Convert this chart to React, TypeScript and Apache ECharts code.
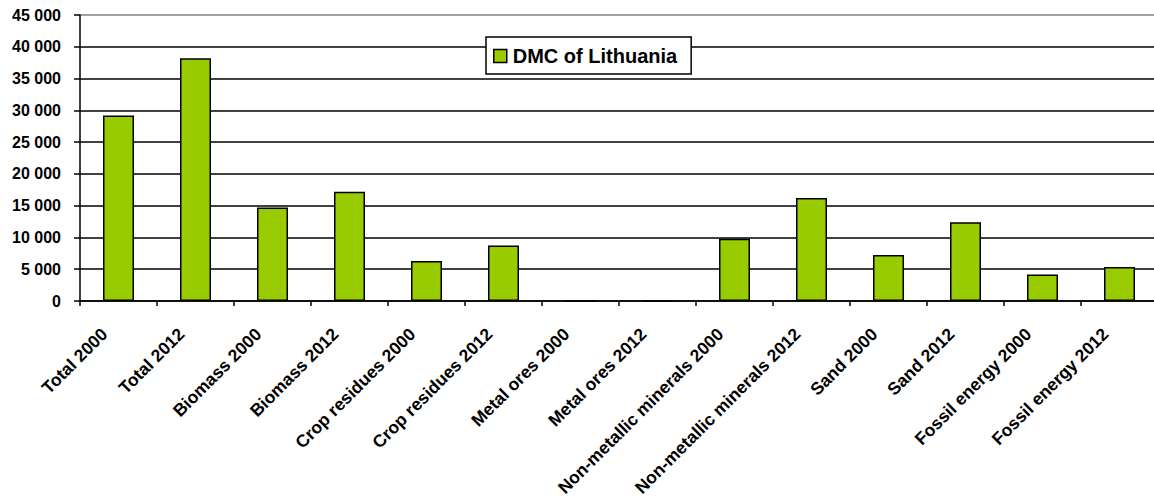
import React, { useEffect, useRef } from "react";
import * as echarts from "echarts";

// Domestic material consumption of Lithuania, thousand tonnes
const categories = [
  "Total 2000",
  "Total 2012",
  "Biomass 2000",
  "Biomass 2012",
  "Crop residues 2000",
  "Crop residues 2012",
  "Metal ores 2000",
  "Metal ores 2012",
  "Non-metallic minerals 2000",
  "Non-metallic minerals 2012",
  "Sand 2000",
  "Sand 2012",
  "Fossil energy 2000",
  "Fossil energy 2012",
];

const dmcValues = [
  29200, 38200, 14700, 17200, 6300, 8750, 0, 0, 9800, 16200, 7250, 12400, 4150, 5350,
];

const seriesName = "DMC of Lithuania";

const yMin = 0;
const yMax = 45000;
const yStep = 5000;

const FONT = "'Liberation Sans', Arial, Helvetica, sans-serif";

function formatThousands(v: number): string {
  return String(Math.round(v)).replace(/\B(?=(\d{3})+(?!\d))/g, " ");
}

export default function App() {
  const ref = useRef<HTMLDivElement>(null);

  useEffect(() => {
    if (!ref.current) return;
    const chart = echarts.init(ref.current, undefined, { renderer: "svg" });

    // one colour per split line, bottom to top; the top border line is grey
    const lineCount = (yMax - yMin) / yStep + 1;
    const splitColors = Array.from({ length: lineCount }, (_, i) =>
      i === lineCount - 1 ? "#808080" : "#000000"
    );

    chart.setOption({
      animation: false,
      backgroundColor: "#ffffff",
      textStyle: { fontFamily: FONT },
      grid: {
        left: 80,
        top: 15,
        right: -4,
        bottom: 198,
        containLabel: false,
        outerBoundsMode: "none",
      },
      legend: {
        data: [seriesName],
        left: 486,
        top: 37,
        orient: "horizontal",
        icon: "rect",
        itemWidth: 13,
        itemHeight: 13,
        itemGap: 0,
        padding: [9, 14, 8, 7],
        backgroundColor: "#ffffff",
        borderColor: "#000000",
        borderWidth: 1.5,
        itemStyle: { borderColor: "#000000", borderWidth: 1.5 },
        textStyle: {
          fontFamily: FONT,
          fontSize: 20,
          fontWeight: "bold",
          color: "#000000",
          padding: [0, 0, 0, 1],
        },
        selectedMode: false,
      },
      xAxis: {
        type: "category",
        data: categories,
        boundaryGap: true,
        axisLine: { show: true, lineStyle: { color: "#000000", width: 1.5 } },
        axisTick: {
          show: true,
          alignWithLabel: false,
          length: 5,
          lineStyle: { color: "#000000", width: 1.5 },
        },
        axisLabel: {
          interval: 0,
          rotate: 45,
          margin: 16,
          padding: [0, 20, 0, 0],
          fontFamily: FONT,
          fontSize: 17.5,
          fontWeight: "bold",
          color: "#000000",
        },
        splitLine: { show: false },
      },
      yAxis: {
        type: "value",
        min: yMin,
        max: yMax,
        interval: yStep,
        axisLine: { show: true, lineStyle: { color: "#000000", width: 1.5 } },
        axisTick: {
          show: true,
          length: 6,
          lineStyle: { color: "#000000", width: 1.5 },
        },
        axisLabel: {
          margin: 19,
          fontFamily: FONT,
          fontSize: 16,
          fontWeight: "bold",
          color: "#000000",
          formatter: (v: number) => formatThousands(v),
        },
        splitLine: {
          show: true,
          lineStyle: { color: splitColors, width: 1.5 },
        },
      },
      series: [
        {
          name: seriesName,
          type: "bar",
          data: dmcValues,
          barWidth: 31,
          itemStyle: {
            color: "#99cc00",
            borderColor: "#000000",
            borderWidth: 1.5,
          },
        },
      ],
    });

    return () => chart.dispose();
  }, []);

  return (
    <div
      ref={ref}
      style={{ position: "fixed", left: 0, top: 0, width: 1154, height: 499 }}
    />
  );
}
